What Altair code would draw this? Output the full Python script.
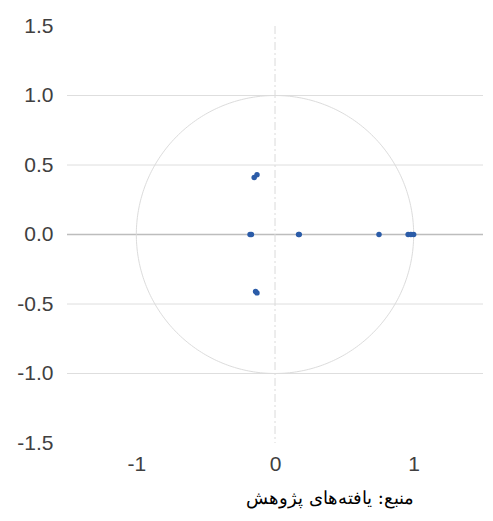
import altair as alt
import pandas as pd

real_part = [-0.15, -0.13, -0.14, -0.13, -0.18, -0.17, 0.17, 0.175, 0.75, 0.96, 0.98, 1.0]
imag_part = [0.41, 0.43, -0.41, -0.42, 0.0, 0.0, 0.0, 0.0, 0.0, 0.0, 0.0, 0.0]

y_ticks = [-1.5, -1.0, -0.5, 0.0, 0.5, 1.0, 1.5]
x_ticks = [-1, 0, 1]
grid_vals = [-1.0, -0.5, 0.5, 1.0]
caption = "منبع: یافته‌های پژوهش"

pts = pd.DataFrame({"re": real_part, "im": imag_part})
grid_df = pd.DataFrame({"g": grid_vals})

W, H = 416, 417
lab_font = "Liberation Sans"
lab_color = "#404040"
fix_minus = "replace(datum.label, '\u2212', '-')"

xscale = alt.Scale(domain=[-1.5, 1.5], nice=False, zero=False)
yscale = alt.Scale(domain=[-1.5, 1.5], nice=False, zero=False)

x_axis = alt.Axis(values=x_ticks, format="d", grid=False, domain=False, ticks=False,
                  labelFont=lab_font, labelFontSize=21, labelColor=lab_color,
                  labelPadding=10, title=None, labelExpr=fix_minus)
y_axis = alt.Axis(values=y_ticks, format=".1f", grid=False, domain=False, ticks=False,
                  labelFont=lab_font, labelFontSize=21, labelColor=lab_color,
                  labelPadding=14, title=None, labelExpr=fix_minus)

grid = alt.Chart(grid_df).mark_rule(color="#dedede", strokeWidth=1).encode(
    y=alt.Y("g:Q", scale=yscale, axis=y_axis)
)

zero_h = alt.Chart(pd.DataFrame({"v": [0.0]})).mark_rule(color="#bdbdbd", strokeWidth=1.6).encode(
    y=alt.Y("v:Q", scale=yscale)
)

zero_v = alt.Chart(pd.DataFrame({"v": [0.0]})).mark_rule(
    color="#dadada", strokeWidth=1, strokeDash=[8, 3, 2, 3]
).encode(
    x=alt.X("v:Q", scale=xscale, axis=x_axis)
)

circle = alt.Chart(alt.sequence(0, 361, 1, as_="deg")).transform_calculate(
    cx="cos(datum.deg * PI / 180)", cy="sin(datum.deg * PI / 180)"
).mark_line(color="#dcdcdc", strokeWidth=1).encode(
    x=alt.X("cx:Q", scale=xscale),
    y=alt.Y("cy:Q", scale=yscale),
    order="deg:Q",
)

points = alt.Chart(pts).mark_circle(size=30, color="#2B5CA8", opacity=1).encode(
    x=alt.X("re:Q", scale=xscale),
    y=alt.Y("im:Q", scale=yscale),
)

chart = alt.layer(grid, zero_h, zero_v, circle, points).properties(
    width=W, height=H,
    autosize=alt.AutoSizeParams(type="none"),
    padding={"left": 59, "top": 18, "right": 2, "bottom": 70},
    title=alt.TitleParams(caption, orient="bottom", anchor="end", dx=-70, offset=16,
                          font="DejaVu Serif", fontSize=18, fontWeight="normal",
                          color="#000000"),
).configure_view(stroke=None)

chart.save("out.html", embed_options={"renderer": "svg", "actions": False})
